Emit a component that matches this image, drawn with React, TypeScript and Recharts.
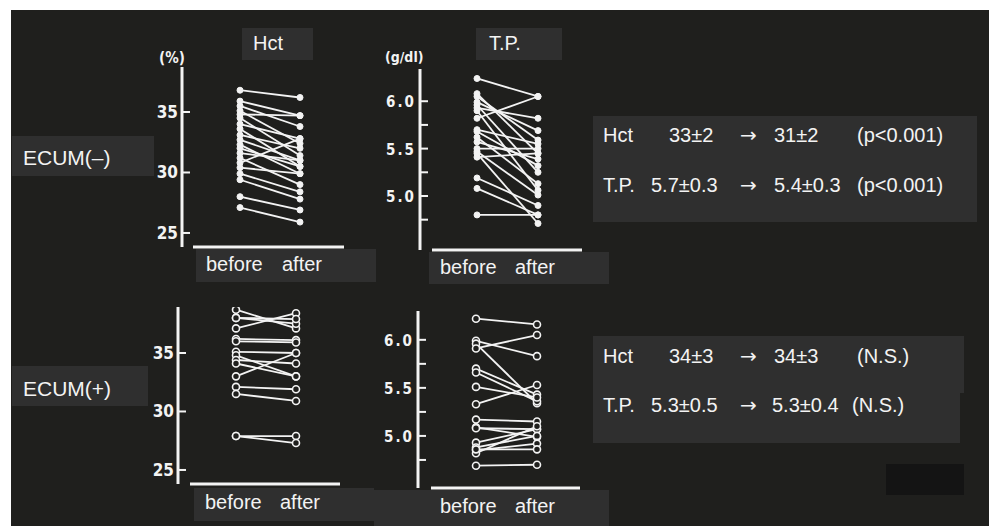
import React from 'react';
import { LineChart, Line, XAxis, YAxis, ReferenceLine } from 'recharts';

// Hct (%) and total protein (g/dl), before and after, one entry per patient
const hctMinusBefore = [36.8, 35.9, 35.5, 35.1, 34.8, 34.5, 34.0, 33.6, 33.1, 32.7, 32.3, 32.0, 31.6, 31.2, 30.8, 30.4, 29.9, 29.4, 28.0, 27.1];
const hctMinusAfter = [36.2, 34.7, 33.8, 32.4, 34.7, 31.4, 32.8, 30.5, 32.0, 31.0, 29.9, 30.5, 31.0, 29.0, 32.8, 29.9, 28.4, 27.8, 26.9, 25.9];

const tpMinusBefore = [6.24, 6.08, 6.05, 5.99, 5.96, 5.93, 5.9, 5.82, 5.7, 5.68, 5.62, 5.57, 5.5, 5.47, 5.45, 5.41, 5.19, 5.08, 4.8];
const tpMinusAfter = [6.05, 5.45, 5.59, 5.69, 5.25, 5.82, 5.06, 6.05, 5.55, 5.32, 5.13, 5.39, 5.5, 5.01, 4.71, 5.45, 4.9, 4.8, 4.8];

const hctPlusBefore = [38.7, 38.0, 37.1, 38.0, 36.2, 36.0, 35.1, 34.8, 34.4, 34.1, 33.0, 32.1, 31.5, 27.9, 27.9];
const hctPlusAfter = [37.1, 37.5, 38.4, 37.9, 36.1, 35.9, 35.0, 33.0, 34.1, 33.0, 35.0, 31.9, 30.9, 27.9, 27.3];

const tpPlusBefore = [6.22, 5.99, 5.96, 5.91, 5.7, 5.66, 5.51, 5.33, 5.17, 5.09, 5.08, 4.93, 4.88, 4.85, 4.82, 4.86, 4.69];
const tpPlusAfter = [6.16, 5.83, 5.34, 6.05, 5.43, 5.36, 5.4, 5.53, 5.15, 4.99, 5.07, 5.07, 5.0, 4.92, 5.1, 4.86, 4.7];

const hctTicks = [25, 30, 35];
const tpTicks = [4.75, 5.0, 5.25, 5.5, 5.75, 6.0];

const statsMinus = [
  ['Hct', '33±2', '→', '31±2', '(p<0.001)'],
  ['T.P.', '5.7±0.3', '→', '5.4±0.3', '(p<0.001)'],
];
const statsPlus = [
  ['Hct', '34±3', '→', '34±3', '(N.S.)'],
  ['T.P.', '5.3±0.5', '→', '5.3±0.4', '(N.S.)'],
];

const BG = '#1f1f1d';
const BOX = '#2f2f2f';
const INK = '#f3f3f3';
const FONT = "'Liberation Sans', Arial, sans-serif";
const AXIS_FONT = "'DejaVu Sans Condensed', 'DejaVu Sans', sans-serif";
const AXIS_W = 44;
const X_H = 12;

type Box = {
  axisX: number; top: number; bottom: number; xStart: number; xEnd: number;
  before: number; after: number; domain: [number, number];
};

function YTick(props: any) {
  const { x, y, payload, fmt, spacing } = props;
  const label = fmt(payload.value);
  return (
    <g>
      <line x1={x + 4} x2={x + 12} y1={y} y2={y} stroke={INK} strokeWidth={2} />
      {label && (
        <text x={x} y={y} dy={6} textAnchor="end" fill={INK} fontFamily={AXIS_FONT}
          fontWeight="bold" fontSize={spacing ? 15 : 17} letterSpacing={spacing}>
          {label}
        </text>
      )}
    </g>
  );
}

function Panel({ before, after, ticks, fmt, box, open, spacing }: any) {
  const b: Box = box;
  const data: any[] = [{ t: 0 }, { t: 1 }];
  before.forEach((v: number, i: number) => {
    data[0]['s' + i] = v;
    data[1]['s' + i] = after[i];
  });
  const unit = b.after - b.before;
  const lo = -(b.before - b.axisX) / unit;
  const hi = 1 + (b.xEnd - b.after) / unit;
  const xs = -(b.before - b.xStart) / unit;
  const left = b.axisX - AXIS_W;
  const top = b.top - 6;
  const width = b.xEnd + 8 - left;
  const height = b.bottom + X_H + 4 - top;
  const dot = open
    ? { r: 3.5, fill: BG, stroke: INK, strokeWidth: 1.6 }
    : { r: 3, fill: INK, stroke: INK, strokeWidth: 1 };

  return (
    <div style={{ position: 'absolute', left, top }}>
      <LineChart width={width} height={height} data={data} margin={{ top: 6, right: 8, bottom: 4, left: 0 }}>
        <XAxis type="number" dataKey="t" domain={[lo, hi]} ticks={[0, 1]} interval={0} allowDataOverflow
          tick={false} axisLine={false} tickLine={{ stroke: INK, strokeWidth: 2 }} tickSize={-8} height={X_H} />
        <YAxis type="number" domain={b.domain} ticks={ticks} interval={0} allowDataOverflow width={AXIS_W}
          axisLine={{ stroke: INK, strokeWidth: 3 }} tickLine={false} tickSize={0} tickMargin={4}
          tick={(p: any) => <YTick {...p} fmt={fmt} spacing={spacing} />} />
        <ReferenceLine segment={[{ x: xs, y: b.domain[0] }, { x: hi, y: b.domain[0] }]} stroke={INK} strokeWidth={3} />
        {before.map((_: number, i: number) => (
          <Line key={i} dataKey={'s' + i} stroke={INK} strokeWidth={1.8} dot={dot} activeDot={false}
            isAnimationActive={false} />
        ))}
      </LineChart>
    </div>
  );
}

const hctFmt = (v: number) => String(v);
const tpFmt = (v: number) => (Math.round(v * 10) % 5 === 0 ? v.toFixed(1) : '');

function Stats({ rows, y0, xs }: any) {
  return rows.map((row: string[], r: number) =>
    row.map((s, c) => (
      <text key={r + '-' + c} x={xs[r][c]} y={y0[r]} fill={INK}
        fontFamily={s === '→' ? "'DejaVu Sans', sans-serif" : FONT} fontSize={20}>{s}</text>
    ))
  );
}

export default function App() {
  return (
    <div style={{ position: 'absolute', left: 0, top: 0, width: 989, height: 526, background: '#fff', overflow: 'hidden' }}>
      <svg width={989} height={526} style={{ position: 'absolute', left: 0, top: 0 }}>
        <rect x={11} y={10} width={978} height={516} fill={BG} />
        {/* column headers and units */}
        <rect x={242} y={28} width={71} height={32} fill={BOX} />
        <text x={253} y={50} fill={INK} fontFamily={FONT} fontSize={20}>Hct</text>
        <rect x={476} y={28} width={86} height={32} fill={BOX} />
        <text x={489} y={50} fill={INK} fontFamily={FONT} fontSize={20}>T.P.</text>
        <text x={159} y={63} fill={INK} fontFamily={AXIS_FONT} fontWeight="bold" fontSize={15}>(%)</text>
        <text x={385} y={62} fill={INK} fontFamily={AXIS_FONT} fontWeight="bold" fontSize={14}>(g/dl)</text>
        {/* row labels */}
        <rect x={12} y={136} width={142} height={40} fill={BOX} />
        <text x={23} y={165} fill={INK} fontFamily={FONT} fontSize={21}>ECUM(–)</text>
        <rect x={12} y={366} width={136} height={40} fill={BOX} />
        <text x={23} y={396} fill={INK} fontFamily={FONT} fontSize={21}>ECUM(+)</text>
        {/* before / after captions */}
        <rect x={196} y={249} width={180} height={33} fill={BOX} />
        <text x={206} y={271} fill={INK} fontFamily={FONT} fontSize={20}>before</text>
        <text x={282} y={271} fill={INK} fontFamily={FONT} fontSize={20}>after</text>
        <rect x={429} y={252} width={180} height={32} fill={BOX} />
        <text x={440} y={274} fill={INK} fontFamily={FONT} fontSize={20}>before</text>
        <text x={515} y={274} fill={INK} fontFamily={FONT} fontSize={20}>after</text>
        <rect x={194} y={488} width={180} height={33} fill={BOX} />
        <text x={205} y={509} fill={INK} fontFamily={FONT} fontSize={20}>before</text>
        <text x={280} y={509} fill={INK} fontFamily={FONT} fontSize={20}>after</text>
        <rect x={374} y={490} width={235} height={36} fill={BOX} />
        <text x={440} y={513} fill={INK} fontFamily={FONT} fontSize={20}>before</text>
        <text x={515} y={513} fill={INK} fontFamily={FONT} fontSize={20}>after</text>
        {/* statistics */}
        <rect x={593} y={116} width={384} height={106} fill={BOX} />
        <Stats rows={statsMinus} y0={[142, 192]} xs={[[603, 669, 740, 774, 857], [603, 651, 740, 774, 857]]} />
        <polygon points="593,336 964,336 964,393 960,393 960,443 593,443" fill={BOX} />
        <Stats rows={statsPlus} y0={[363, 412]} xs={[[603, 669, 740, 774, 857], [603, 651, 740, 772, 852]]} />
        <rect x={886} y={464} width={78} height={31} fill="#141414" />
      </svg>
      <Panel before={hctMinusBefore} after={hctMinusAfter} ticks={hctTicks} fmt={hctFmt}
        box={{ axisX: 182, top: 67, bottom: 247, xStart: 193, xEnd: 344, before: 240, after: 300, domain: [23.84, 38.72] }} />
      <Panel before={tpMinusBefore} after={tpMinusAfter} ticks={tpTicks} fmt={tpFmt} spacing={2}
        box={{ axisX: 420, top: 69, bottom: 250, xStart: 432, xEnd: 582, before: 477, after: 538, domain: [4.43, 6.34] }} />
      <Panel before={hctPlusBefore} after={hctPlusAfter} ticks={hctTicks} fmt={hctFmt} open
        box={{ axisX: 178, top: 307, bottom: 484, xStart: 190, xEnd: 340, before: 236, after: 296, domain: [23.8, 38.93] }} />
      <Panel before={tpPlusBefore} after={tpPlusAfter} ticks={tpTicks} fmt={tpFmt} spacing={2} open
        box={{ axisX: 418, top: 311, bottom: 488, xStart: 431, xEnd: 580, before: 476, after: 537, domain: [4.458, 6.3] }} />
    </div>
  );
}
